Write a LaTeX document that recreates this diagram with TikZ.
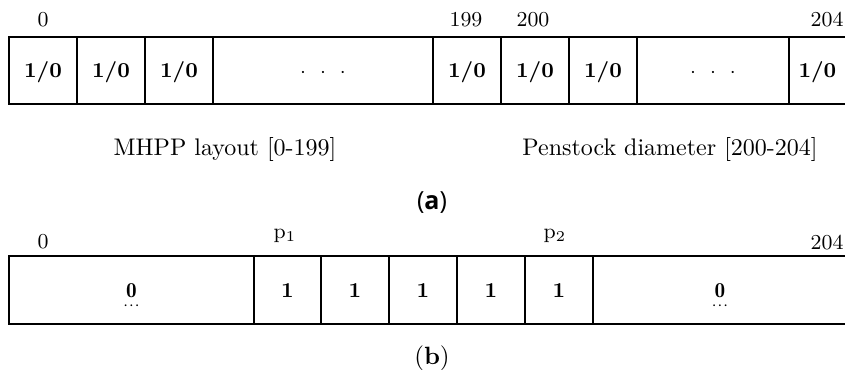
\documentclass[tikz,border=0pt]{standalone}
\usepackage{amsmath}
\usepackage{fontspec}
\newfontfamily\capsans{Open Sans}
\tikzset{
  cellbox/.style={draw, line width=0.8pt, rectangle, inner sep=0pt, outer sep=0pt,
    font=\fontsize{8.5}{10}\selectfont\bfseries, text height=6pt, text depth=0pt},
  ticklbl/.style={font=\fontsize{8.5}{10}\selectfont, inner sep=0pt},
  caplbl/.style={font=\fontsize{9.6}{12}\selectfont, inner sep=0pt},
  sublbl/.style={font=\fontsize{10}{12}\selectfont, inner sep=0pt},
}
\newcommand{\mkcell}[6]{\node[cellbox, minimum width={(#3-#2)*0.4pt}, minimum height={(#5-#4)*0.4pt}] (#1) at ({(#2+#3)/2},{(#4+#5)/2}) {#6};}
\newcommand{\sdots}{$\cdot$\hspace{5.6pt}$\cdot$\hspace{5.6pt}$\cdot$}
\newcommand{\zdots}{$\underset{\cdots}{\mathbf{0}}$}
\begin{document}
\begin{tikzpicture}[x=0.4pt,y=-0.4pt]
\useasboundingbox (0,0) rectangle (845,370);
% row (a)
\mkcell{a1}{9}{77}{37}{104}{1/0}
\mkcell{a2}{77}{145}{37}{104}{1/0}
\mkcell{a3}{145}{213}{37}{104}{1/0}
\mkcell{a4}{213}{433}{37}{104}{\sdots}
\mkcell{a5}{433}{501}{37}{104}{1/0}
\mkcell{a6}{501}{569}{37}{104}{1/0}
\mkcell{a7}{569}{637}{37}{104}{1/0}
\mkcell{a8}{637}{789}{37}{104}{\sdots}
\mkcell{a9}{789}{847}{37}{104}{\hspace*{-0.5pt}1/0}
\node[ticklbl] (ta0) at (43,20) {0};
\node[ticklbl] (ta199) at (466,20) {199};
\node[ticklbl] (ta200) at (533,20) {200};
\node[ticklbl, anchor=east] (ta204) at (844,20) {204};
\node[caplbl] (cap1) at (225,150) {MHPP layout [0-199]};
\node[caplbl] (cap2) at (670,150) {Penstock diameter [200-204]};
\node[sublbl] (suba) at (432,203) {\capsans(\textbf{a})};
% row (b)
\mkcell{b1}{9}{254}{256}{324}{\zdots}
\mkcell{b2}{254}{321}{256}{324}{1}
\mkcell{b3}{321}{389}{256}{324}{1}
\mkcell{b4}{389}{457}{256}{324}{1}
\mkcell{b5}{457}{525}{256}{324}{1}
\mkcell{b6}{525}{593}{256}{324}{1}
\mkcell{b7}{593}{847}{256}{324}{\zdots}
\node[ticklbl] (tb0) at (43,242) {0};
\node[ticklbl] (tbp1) at (285,236) {$\mathrm{p}_1$};
\node[ticklbl] (tbp2) at (555,236) {$\mathrm{p}_2$};
\node[ticklbl, anchor=east] (tb204) at (844,243) {204};
\node[sublbl] (subb) at (432,358) {({\bfseries b})};
\end{tikzpicture}
\end{document}
